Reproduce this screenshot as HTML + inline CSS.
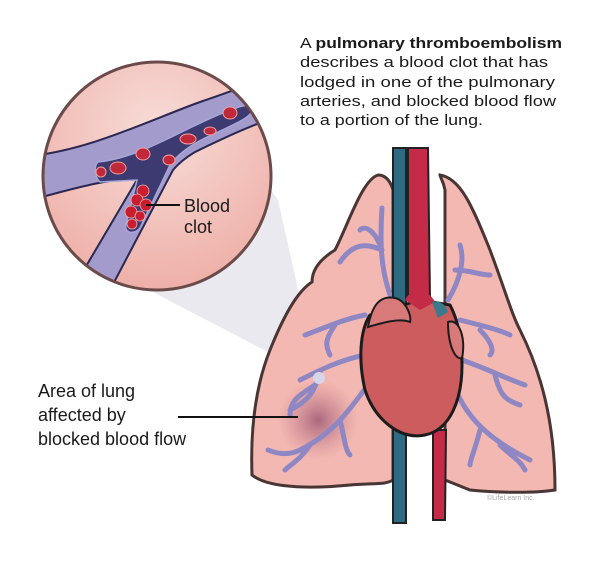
<!DOCTYPE html>
<html><head><meta charset="utf-8"><style>html,body{margin:0;padding:0;background:#fff}svg{display:block}text{font-family:"Liberation Sans",sans-serif;fill:#1a1a1a}</style></head><body>
<svg width="600" height="561" viewBox="0 0 600 561" xmlns="http://www.w3.org/2000/svg">
<defs>
<radialGradient id="cg" cx="0.5" cy="0.3" r="0.7"><stop offset="0" stop-color="#f8dcd8"/><stop offset="1" stop-color="#eeb0a8"/></radialGradient>
<radialGradient id="bl" cx="0.5" cy="0.5" r="0.5"><stop offset="0" stop-color="#9c5a75" stop-opacity="0.85"/><stop offset="1" stop-color="#c07a88" stop-opacity="0"/></radialGradient>
<clipPath id="cc"><circle cx="157" cy="176" r="114"/></clipPath>
</defs>
<polygon points="200,90 278,200 318,378 120,275" fill="#e6e3ec" opacity="0.8"/>
<!-- lungs -->
<path d="M378,175 C362,180 348,225 335,250 C322,258 312,268 312,282 C296,292 282,320 270,350 C258,380 250,420 252,475 C270,490 320,488 350,485 C375,483 385,485 393,480 L393,190 C390,180 385,175 378,175 Z" fill="#f3b8b2" stroke="#4a3535" stroke-width="3"/>
<path d="M440,175 C460,178 472,205 490,250 C505,290 512,315 520,330 C540,370 555,420 555,490 C530,494 490,492 470,490 L445,480 L445,190 C443,180 440,177 440,175 Z" fill="#f3b8b2" stroke="#4a3535" stroke-width="3"/>
<circle cx="318" cy="420" r="40" fill="url(#bl)"/>
<g stroke="#8f86c4" stroke-width="5" fill="none" stroke-linecap="round">
<path d="M392,300 C380,270 380,240 382,208 M382,250 C370,245 355,240 340,262 M382,250 C375,230 365,225 360,230"/>
<path d="M365,315 C340,320 320,330 305,335 M335,325 C325,340 325,345 330,355"/>
<path d="M365,355 C340,360 320,370 300,380 M320,372 C315,390 310,400 290,410 M315,385 C300,395 290,400 290,415"/>
<path d="M372,380 C355,400 340,430 300,450 C290,455 280,455 268,450 M340,420 C345,440 345,450 350,455 M310,445 C300,460 290,465 285,470"/>
<path d="M448,300 C460,280 465,260 460,245 M455,270 C470,270 480,275 490,275"/>
<path d="M460,320 C480,325 500,330 510,335 M480,330 C490,340 495,350 490,355"/>
<path d="M462,360 C490,370 510,380 525,385 M495,375 C500,395 505,400 520,405"/>
<path d="M458,395 C470,420 490,440 530,460 M480,430 C475,450 470,460 470,465 M500,445 C510,455 520,460 525,470"/>
</g>
<rect x="393" y="148" width="13" height="375" fill="#2e6a82" stroke="#222" stroke-width="2"/>
<path d="M408,148 L428,148 L430,300 L408,300 Z" fill="#c42b46" stroke="#222" stroke-width="2"/>
<path d="M433,430 L446,430 L445,520 L433,520 Z" fill="#c42b46" stroke="#222" stroke-width="2"/>
<!-- heart -->
<path d="M370,315 C360,330 358,360 365,390 C375,420 400,440 425,435 C450,430 462,400 462,365 C462,340 458,320 450,305 L420,300 Z" fill="#cc5c5e" stroke="#1c1c1c" stroke-width="3"/>
<path d="M405,300 C410,288 428,288 435,302 L420,310 Z" fill="#c42b46"/>
<path d="M432,302 C440,300 446,305 448,312 L438,318 Z" fill="#3a7a8a"/>
<path d="M368,327 C372,305 380,295 395,298 C405,300 412,315 410,322 C400,318 385,322 368,327 Z" fill="#d8797a" stroke="#1c1c1c" stroke-width="2"/>
<path d="M448,322 C460,318 466,340 462,358 C455,360 448,345 448,322 Z" fill="#d8797a" stroke="#1c1c1c" stroke-width="2"/>
<circle cx="319" cy="378" r="6" fill="#d6d6ea"/>
<!-- circle inset -->
<circle cx="157" cy="176" r="114" fill="url(#cg)"/>
<g clip-path="url(#cc)">
<path d="M30,156 C90,150 150,120 200,102 C230,92 255,82 290,70 L300,110 C260,120 220,140 195,152 C185,158 178,164 173,170 L110,290 L75,285 L138,178 C100,180 70,190 30,200 Z" fill="#a39bcb" stroke="#2a2850" stroke-width="2"/>
<path d="M98,162 C140,158 180,130 225,112 C240,106 250,103 252,108 C254,116 240,122 205,138 C185,148 175,158 170,165 L140,228 C133,236 124,232 126,225 L137,180 L100,182 C94,176 94,166 98,162 Z" fill="#3c3a70" stroke="#a7a6d8" stroke-width="1.5"/>
<g fill="#c0283b" stroke="#f0a0a0" stroke-width="1">
<ellipse cx="230" cy="113" rx="7" ry="6"/><ellipse cx="210" cy="131" rx="6" ry="4"/><ellipse cx="188" cy="139" rx="8" ry="5"/><ellipse cx="143" cy="154" rx="7" ry="6"/><ellipse cx="169" cy="160" rx="6" ry="5"/><ellipse cx="118" cy="168" rx="8" ry="6"/><ellipse cx="101" cy="172" rx="5" ry="5"/>
</g>
<g fill="#c81e30" stroke="#f3b0b0" stroke-width="0.8">
<circle cx="143" cy="191" r="6"/><circle cx="137" cy="200" r="6"/><circle cx="146" cy="205" r="6"/><circle cx="131" cy="212" r="6"/><circle cx="140" cy="216" r="5"/><circle cx="132" cy="224" r="5"/>
</g>
</g>
<circle cx="157" cy="176" r="114" fill="none" stroke="#6b4a4a" stroke-width="3"/>
<line x1="146" y1="205" x2="180" y2="205" stroke="#111" stroke-width="2"/>
<text x="184" y="212" font-size="18">Blood</text>
<text x="184" y="233" font-size="18">clot</text>
<text x="300" y="48" font-size="15" textLength="262" lengthAdjust="spacingAndGlyphs">A <tspan font-weight="bold">pulmonary thromboembolism</tspan></text>
<text x="300" y="67" font-size="15" textLength="248" lengthAdjust="spacingAndGlyphs">describes a blood clot that has</text>
<text x="300" y="87" font-size="15" textLength="255" lengthAdjust="spacingAndGlyphs">lodged in one of the pulmonary</text>
<text x="300" y="106" font-size="15" textLength="256" lengthAdjust="spacingAndGlyphs">arteries, and blocked blood flow</text>
<text x="300" y="125" font-size="15" textLength="183" lengthAdjust="spacingAndGlyphs">to a portion of the lung.</text>
<text x="38" y="397" font-size="18">Area of lung</text>
<text x="38" y="421" font-size="18">affected by</text>
<text x="38" y="445" font-size="18">blocked blood flow</text>
<line x1="178" y1="417" x2="298" y2="417" stroke="#111" stroke-width="2"/>
<text x="487" y="500" font-size="7" style="fill:#aaa">©LifeLearn Inc.</text>
</svg>
</body></html>
